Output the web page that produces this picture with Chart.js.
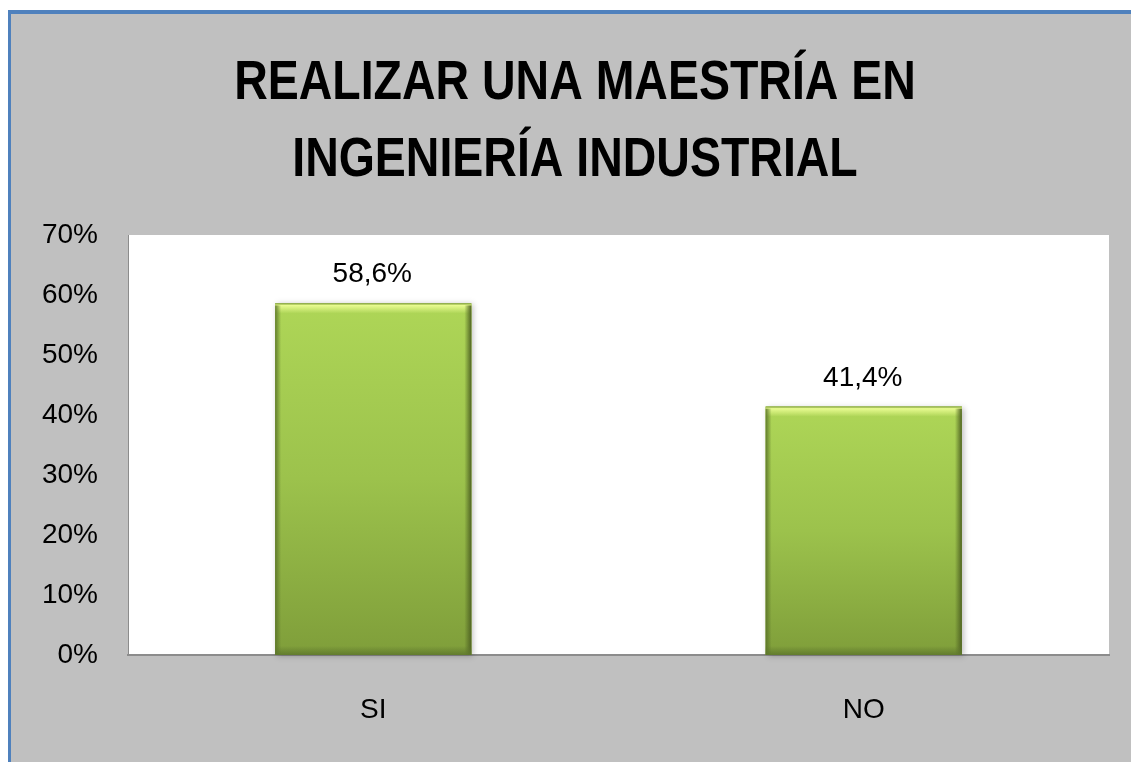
<!DOCTYPE html>
<html>
<head>
<meta charset="utf-8">
<script src="https://cdn.jsdelivr.net/npm/chart.js@4.4.1/dist/chart.umd.min.js"></script>
<style>
  html, body { margin: 0; padding: 0; background: #ffffff; overflow: hidden; }
  #frame {
    position: absolute; left: 8px; top: 10px; right: 0; bottom: 0;
    background: #c0c0c0;
    border-top: 4px solid #4f81bd;
    border-left: 3px solid #4f81bd;
  }
  #c { position: absolute; left: 0; top: 0; }
</style>
</head>
<body>
<div id="frame"></div>
<canvas id="c" width="1131" height="762"></canvas>
<script>
const titleLines = ['REALIZAR UNA MAESTRÍA EN', 'INGENIERÍA INDUSTRIAL'];
const categories = ['SI', 'NO'];
const values = [58.6, 41.4];
const valueLabels = ['58,6%', '41,4%'];
const yMin = 0;
const yMax = 70;
const yStep = 10;

const plotBg = {
  id: 'plotBg',
  beforeDraw(chart) {
    const { ctx, chartArea: a } = chart;
    ctx.save();
    ctx.fillStyle = '#ffffff';
    ctx.fillRect(a.left, a.top, a.right - a.left, a.bottom - a.top);
    ctx.restore();
  }
};

// Title drawn as condensed bold text (reference uses a narrow bold face)
const condensedTitle = {
  id: 'condensedTitle',
  afterDraw(chart) {
    const { ctx } = chart;
    const baselines = [99, 176];
    ctx.save();
    ctx.font = 'bold 56px "Liberation Sans", Arial, sans-serif';
    ctx.fillStyle = '#000000';
    ctx.textAlign = 'center';
    ctx.textBaseline = 'alphabetic';
    titleLines.forEach((line, i) => {
      ctx.save();
      ctx.translate(575, baselines[i]);
      ctx.scale(0.83, 1);
      ctx.fillText(line, 0, 0);
      ctx.restore();
    });
    ctx.restore();
  }
};

const bevel = {
  id: 'bevel',
  beforeDatasetsDraw(chart) {
    const { ctx } = chart;
    const meta = chart.getDatasetMeta(0);
    ctx.save();
    meta.data.forEach(el => {
      const l = el.x - el.width / 2, t = el.y, h = el.base - el.y;
      ctx.shadowColor = 'rgba(0,0,0,0.25)';
      ctx.shadowBlur = 6;
      ctx.shadowOffsetX = 2;
      ctx.shadowOffsetY = 1;
      ctx.fillStyle = '#8aa845';
      ctx.fillRect(l, t, el.width, h);
    });
    ctx.restore();
  },
  afterDatasetsDraw(chart) {
    const { ctx } = chart;
    const meta = chart.getDatasetMeta(0);
    ctx.save();
    meta.data.forEach(el => {
      const l = el.x - el.width / 2, r = el.x + el.width / 2, t = el.y, b = el.base;
      let g = ctx.createLinearGradient(0, t, 0, t + 10);
      g.addColorStop(0, 'rgba(120,150,50,0.9)');
      g.addColorStop(0.2, 'rgba(238,255,150,0.9)');
      g.addColorStop(1, 'rgba(238,255,150,0)');
      ctx.fillStyle = g;
      ctx.fillRect(l, t, r - l, 10);
      g = ctx.createLinearGradient(l, 0, l + 6, 0);
      g.addColorStop(0, 'rgba(90,115,40,0.9)');
      g.addColorStop(1, 'rgba(90,115,40,0)');
      ctx.fillStyle = g;
      ctx.fillRect(l, t + 2, 6, b - t - 2);
      g = ctx.createLinearGradient(r, 0, r - 7, 0);
      g.addColorStop(0, 'rgba(80,100,35,1)');
      g.addColorStop(1, 'rgba(80,100,35,0)');
      ctx.fillStyle = g;
      ctx.fillRect(r - 7, t + 2, 7, b - t - 2);
      g = ctx.createLinearGradient(0, b, 0, b - 9);
      g.addColorStop(0, 'rgba(95,120,45,0.9)');
      g.addColorStop(1, 'rgba(95,120,45,0)');
      ctx.fillStyle = g;
      ctx.fillRect(l, b - 9, r - l, 9);
    });
    ctx.restore();
  }
};

const valueLabelPlugin = {
  id: 'valueLabels',
  afterDatasetsDraw(chart) {
    const { ctx } = chart;
    const meta = chart.getDatasetMeta(0);
    ctx.save();
    ctx.font = '28px "Liberation Sans", Arial, sans-serif';
    ctx.fillStyle = '#000000';
    ctx.textAlign = 'center';
    ctx.textBaseline = 'alphabetic';
    meta.data.forEach((el, i) => {
      ctx.fillText(valueLabels[i], el.x - 1, el.y - 21);
    });
    ctx.restore();
  }
};

new Chart(document.getElementById('c'), {
  type: 'bar',
  data: {
    labels: categories,
    datasets: [{
      data: values,
      backgroundColor(ctx) {
        const chart = ctx.chart;
        if (!chart.chartArea || ctx.parsed === undefined) return '#9bbb59';
        const ys = chart.scales.y;
        const top = ys.getPixelForValue(ctx.parsed.y);
        const bot = ys.getPixelForValue(0);
        const g = chart.ctx.createLinearGradient(0, top, 0, bot);
        g.addColorStop(0, '#aed657');
        g.addColorStop(0.5, '#9cc24c');
        g.addColorStop(1, '#7f9e3a');
        return g;
      },
      borderWidth: 0,
      categoryPercentage: 0.4,
      barPercentage: 1.0
    }]
  },
  options: {
    responsive: false,
    animation: false,
    events: [],
    layout: { padding: { left: 0, right: 22, top: 235, bottom: 0 } },
    plugins: {
      legend: { display: false },
      tooltip: { enabled: false },
      title: { display: false }
    },
    scales: {
      x: {
        grid: { display: false, drawTicks: false },
        border: { display: true, color: '#8c8c8c', width: 2 },
        ticks: { color: '#000000', font: { family: '"Liberation Sans", Arial, sans-serif', size: 28 }, padding: 38 },
        afterFit(scale) { scale.height = 107; }
      },
      y: {
        min: yMin,
        max: yMax,
        grid: { display: false, drawTicks: false },
        border: { display: true, color: '#8c8c8c', width: 1 },
        ticks: {
          stepSize: yStep,
          color: '#000000',
          font: { family: '"Liberation Sans", Arial, sans-serif', size: 28 },
          padding: 30,
          callback: v => v + '%'
        },
        afterFit(scale) { scale.width = 128; }
      }
    }
  },
  plugins: [plotBg, bevel, valueLabelPlugin, condensedTitle]
});
</script>
</body>
</html>
